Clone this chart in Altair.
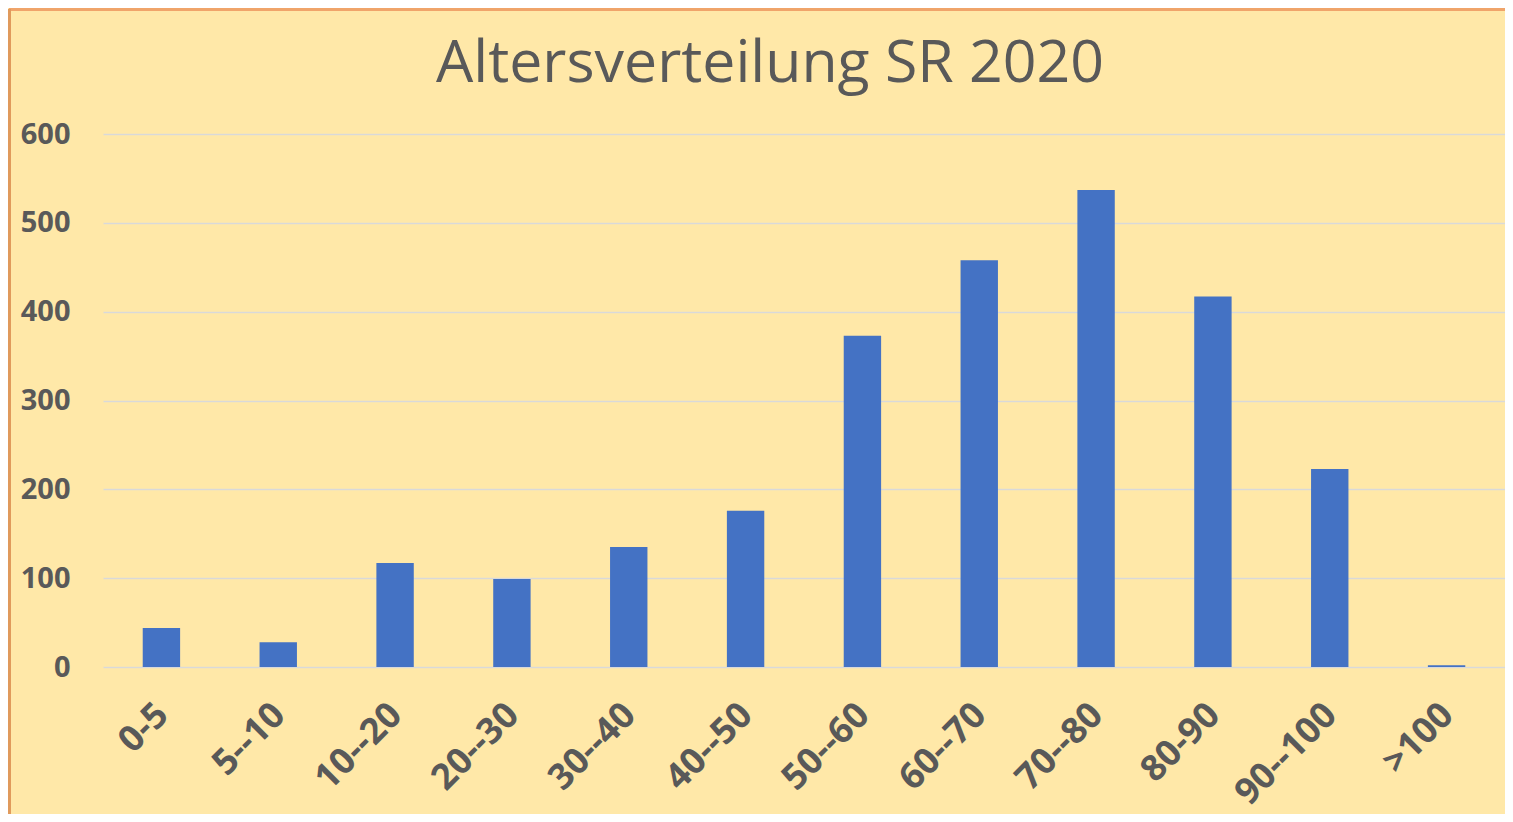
import altair as alt
import pandas as pd

categories = ["0-5", "5--10", "10--20", "20--30", "30--40", "40--50",
              "50--60", "60--70", "70--80", "80-90", "90--100", ">100"]
values = [44, 28, 117, 99, 135, 176, 373, 458, 537, 417, 223, 2]
y_ticks = [0, 100, 200, 300, 400, 500, 600]

df = pd.DataFrame({"Altersgruppe": categories, "Anzahl": values})

GRAY = "#595959"
FONT = "Open Sans"

bars = alt.Chart(df).mark_bar(color="#4472C4").encode(
    x=alt.X("Altersgruppe:N", sort=categories, title=None,
            scale=alt.Scale(paddingInner=0.68, paddingOuter=0.34),
            axis=alt.Axis(labelAngle=-45, labelFontSize=36, labelFontWeight="bold",
                          labelColor=GRAY, labelFont=FONT, ticks=False, domain=False,
                          labelPadding=30, labelOffset=-11, grid=False)),
    y=alt.Y("Anzahl:Q", title=None,
            scale=alt.Scale(domain=[0, 600], nice=False),
            axis=alt.Axis(values=y_ticks, labelFontSize=29, labelFontWeight="bold",
                          labelColor=GRAY, labelFont=FONT, ticks=False, domain=False,
                          labelPadding=33, gridColor="#D9D9D9", gridWidth=1.3)),
)

border_top = alt.Chart(df).mark_rule(color="#EFA46A", strokeWidth=2).encode(
    x=alt.value(-94), x2=alt.value(1402), y=alt.value(-124.5)
)
border_left = alt.Chart(df).mark_rule(color="#E09A5C", strokeWidth=2).encode(
    x=alt.value(-93.5), y=alt.value(-125), y2=alt.value(680)
)

chart = alt.layer(bars, border_top, border_left).properties(
    width=1402, height=533,
    title=alt.TitleParams("Altersverteilung SR 2020", fontSize=59, font=FONT,
                          fontWeight="normal", color=GRAY, anchor="middle",
                          baseline="alphabetic", offset=-133, dx=-34),
    autosize=alt.AutoSizeParams(type="none"),
    padding={"left": 95, "top": 126, "right": 0, "bottom": 147},
    background="#FFE8A8",
).configure_view(stroke=None)

chart.save("out.html", embed_options={"renderer": "svg", "actions": False})
